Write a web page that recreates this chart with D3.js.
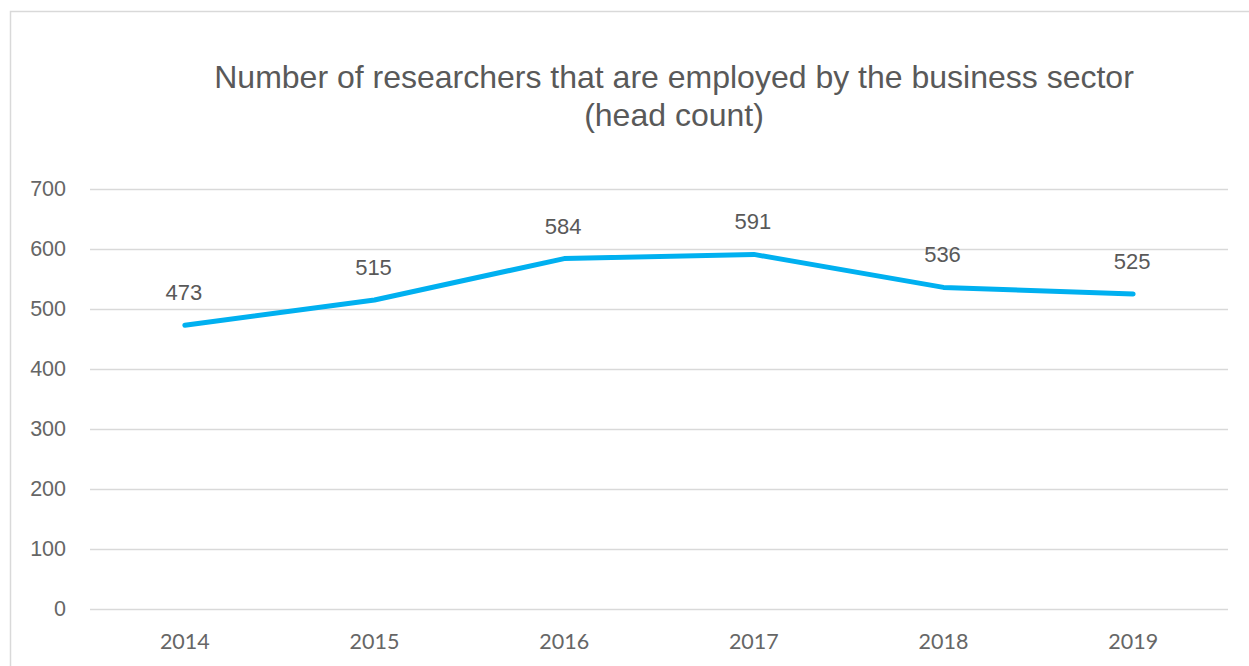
<!DOCTYPE html>
<html>
<head>
<meta charset="utf-8">
<script src="https://cdn.jsdelivr.net/npm/d3@7"></script>
<style>
  html, body { margin: 0; padding: 0; background: #ffffff; }
  svg { display: block; }
</style>
</head>
<body>
<svg id="chart" width="1249" height="666"></svg>
<script>
// Researchers employed in the business sector, head count
const years = ["2014", "2015", "2016", "2017", "2018", "2019"];
const researchers = [473, 515, 584, 591, 536, 525];
const yTicks = [0, 100, 200, 300, 400, 500, 600, 700];
const titleLines = ["Number of researchers that are employed by the business sector", "(head count)"];

const svg = d3.select("#chart");
const W = 1249, H = 666;
const margin = { left: 90, right: 21, top: 189, bottom: 57 };
const axisFont = "Lato, 'Open Sans', sans-serif";
const textFont = "'Liberation Sans', Arial, sans-serif";

// chart area frame (extends past the right and bottom edges)
svg.append("rect")
  .attr("x", 10.5).attr("y", 11.5)
  .attr("width", 1260).attr("height", 700)
  .attr("fill", "#ffffff")
  .attr("stroke", "#d9d9d9")
  .attr("stroke-width", 1.5);

const x = d3.scaleBand()
  .domain(years)
  .range([margin.left, W - margin.right]);

const y = d3.scaleLinear()
  .domain([0, 700])
  .range([H - margin.bottom, margin.top]);

// title
const title = svg.append("text")
  .attr("text-anchor", "middle")
  .attr("font-family", textFont)
  .attr("font-size", 32)
  .attr("fill", "#595959");
titleLines.forEach((t, i) => {
  title.append("tspan")
    .attr("x", 674)
    .attr("y", 88 + i * 38)
    .text(t);
});

// gridlines
svg.append("g")
  .selectAll("line")
  .data(yTicks)
  .join("line")
  .attr("x1", margin.left)
  .attr("x2", W - margin.right)
  .attr("y1", d => Math.round(y(d)) + 0.5)
  .attr("y2", d => Math.round(y(d)) + 0.5)
  .attr("stroke", "#d9d9d9")
  .attr("stroke-width", 1.5);

// y axis labels
const yAxis = d3.axisLeft(y).tickValues(yTicks).tickSize(0).tickPadding(0);
const gy = svg.append("g")
  .attr("transform", `translate(66,0)`)
  .call(yAxis);
gy.select(".domain").remove();
gy.selectAll("text")
  .attr("font-family", textFont)
  .attr("font-size", 21.5)
  .attr("fill", "#666666");

// x axis labels
const xAxis = d3.axisBottom(x).tickSize(0).tickPadding(0);
const gx = svg.append("g")
  .attr("transform", `translate(0,${H - margin.bottom + 25})`)
  .call(xAxis);
gx.select(".domain").remove();
gx.selectAll("text")
  .attr("font-family", axisFont)
  .attr("font-size", 21.5)
  .attr("fill", "#666666");

// series line
const line = d3.line()
  .x((d, i) => x(years[i]) + x.bandwidth() / 2)
  .y(d => y(d));

svg.append("path")
  .datum(researchers)
  .attr("d", line)
  .attr("fill", "none")
  .attr("stroke", "#00b0f0")
  .attr("stroke-width", 5)
  .attr("stroke-linejoin", "round")
  .attr("stroke-linecap", "round");

// value labels
svg.append("g")
  .selectAll("text")
  .data(researchers)
  .join("text")
  .attr("x", (d, i) => x(years[i]) + x.bandwidth() / 2 - 1)
  .attr("y", d => y(d) - 25)
  .attr("text-anchor", "middle")
  .attr("font-family", textFont)
  .attr("font-size", 22)
  .attr("fill", "#595959")
  .text(d => d);
</script>
</body>
</html>
